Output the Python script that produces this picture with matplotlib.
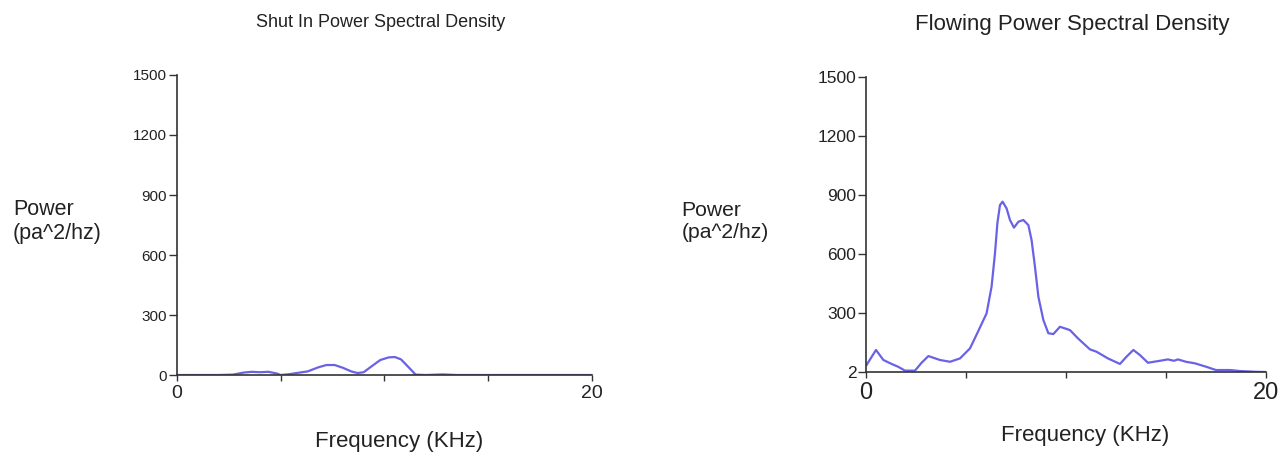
import matplotlib
matplotlib.use("Agg")
import matplotlib.pyplot as plt

# Shut-in PSD (frequency kHz, power pa^2/hz)
shut_freq = [0, 1, 2, 2.7, 3.2, 3.6, 4.0, 4.4, 4.8, 5.0, 5.4, 5.9, 6.3, 6.8, 7.2, 7.6,
             8.0, 8.4, 8.7, 9.0, 9.4, 9.8, 10.2, 10.5, 10.8, 11.2, 11.5, 12, 12.8, 13.5,
             15, 17, 20]
shut_power = [0, 0, 0, 2, 12, 16, 14, 16, 8, 0, 4, 12, 18, 38, 50, 50,
              36, 18, 10, 14, 45, 75, 88, 90, 78, 35, 2, 0, 3, 0,
              0, 0, 0]

# Flowing PSD
flow_freq = [0.03, 0.5, 0.87, 1.28, 1.6, 1.95, 2.45, 2.78, 3.12, 3.7, 4.2, 4.7, 5.2, 5.6,
             6.03, 6.28, 6.45, 6.57, 6.7, 6.83, 7.03, 7.2, 7.4, 7.62, 7.87, 8.12, 8.28,
             8.45, 8.62, 8.87, 9.12, 9.37, 9.7, 10.2, 10.6, 11.2, 11.53, 12.1, 12.7,
             13.03, 13.37, 13.7, 14.1, 14.7, 15.1, 15.4, 15.6, 16.0, 16.45, 17.0, 17.5,
             18.2, 18.7, 19.5, 20.0]
flow_power = [36, 112, 61, 41, 27, 7, 7, 47, 81, 61, 52, 69, 120, 205,
              298, 434, 603, 756, 849, 866, 832, 773, 734, 764, 773, 747, 671,
              535, 383, 264, 197, 193, 230, 213, 171, 115, 103, 69, 41,
              78, 112, 86, 47, 57, 64, 57, 64, 52, 44, 27, 10,
              10, 5, 1, 0]

y_ticks = [0, 300, 600, 900, 1200, 1500]
left_ytick_labels = ["0", "300", "600", "900", "1200", "1500"]
right_ytick_labels = ["2", "300", "600", "900", "1200", "1500"]
x_ticks = [0, 5, 10, 15, 20]
x_tick_labels = ["0", "", "", "", "20"]

line_color = "#6a62e6"
axis_color = "#333333"
text_color = "#222222"

plt.rcParams['font.family'] = ['Liberation Sans', 'DejaVu Sans']

fig = plt.figure(figsize=(12.86, 4.57), dpi=100)

def style(ax, ylabels, ylab_size, xlab_size):
    for s in ["top", "right"]:
        ax.spines[s].set_visible(False)
    for s in ["left", "bottom"]:
        ax.spines[s].set_color(axis_color)
        ax.spines[s].set_linewidth(1.2)
    ax.set_xlim(0, 20)
    ax.set_ylim(0, 1500)
    ax.set_yticks(y_ticks)
    ax.set_yticklabels(ylabels)
    ax.set_xticks(x_ticks)
    ax.set_xticklabels(x_tick_labels)
    ax.tick_params(axis="y", length=6, width=1, color=axis_color, labelsize=ylab_size,
                   labelcolor=text_color, pad=1)
    ax.tick_params(axis="x", length=4, width=1, color=axis_color, labelsize=xlab_size,
                   labelcolor=text_color, pad=3)

# Left
ax1 = fig.add_axes([0.1376, 0.1794, 0.3227, 0.6565])
ax1.plot(shut_freq, shut_power, color=line_color, lw=1.6, solid_joinstyle="round")
style(ax1, left_ytick_labels, 11, 14)
fig.text(0.296, 0.95, "Shut In Power Spectral Density", ha="center", va="center",
         fontsize=13, color=text_color)
fig.text(0.010, 0.515, "Power\n(pa^2/hz)", ha="left", va="center", fontsize=15.5,
         color=text_color, linespacing=1.2)
fig.text(0.31, 0.033, "Frequency (KHz)", ha="center", va="center", fontsize=16,
         color=text_color)

# Right
ax2 = fig.add_axes([0.6734, 0.186, 0.311, 0.6455])
ax2.plot(flow_freq, flow_power, color=line_color, lw=1.6, solid_joinstyle="round")
style(ax2, right_ytick_labels, 12.5, 17)
fig.text(0.834, 0.947, "Flowing Power Spectral Density", ha="center", va="center",
         fontsize=16, color=text_color)
fig.text(0.530, 0.515, "Power\n(pa^2/hz)", ha="left", va="center", fontsize=15.2,
         color=text_color, linespacing=1.2)
fig.text(0.844, 0.047, "Frequency (KHz)", ha="center", va="center", fontsize=16,
         color=text_color)

fig.savefig("out.png", dpi=100)
